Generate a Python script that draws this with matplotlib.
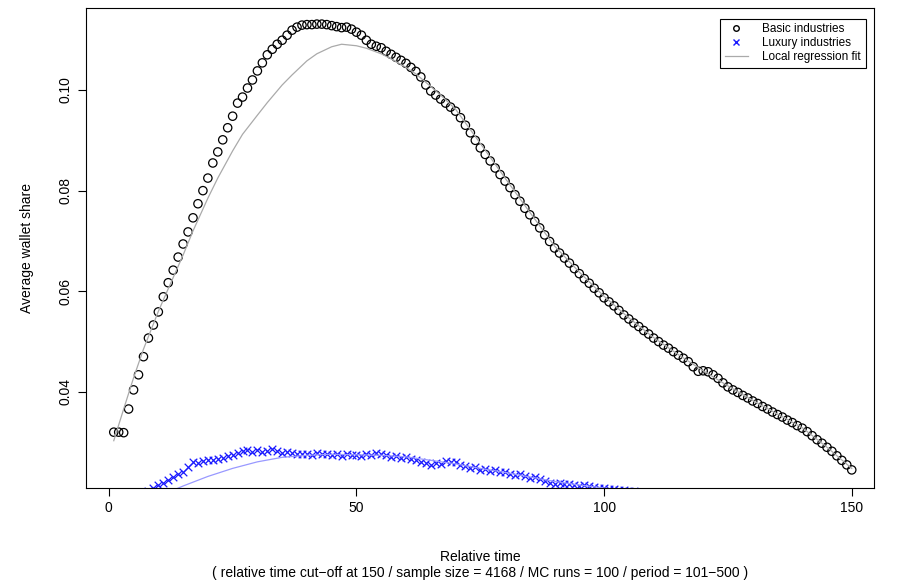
import numpy as np
import matplotlib
matplotlib.use("Agg")
import matplotlib.pyplot as plt
from matplotlib.lines import Line2D

plt.rcParams['font.family'] = ['Liberation Sans', 'DejaVu Sans']

# Basic industries, relative time 1..150
basic = [
    .0320, .0320, .0319, .0366, .0404, .0434, .0470, .0507, .0533, .0559,
    .0589, .0617, .0642, .0668, .0694, .0718, .0746, .0774, .0800, .0825,
    .0855, .0877, .0901, .0925, .0948, .0974, .0986, .1004, .1020, .1038,
    .1054, .1070, .1081, .1091, .1099, .1109, .1119, .1125, .1129, .1130,
    .1130, .1131, .1131, .1130, .1128, .1126, .1124, .1125, .1121, .1115,
    .1109, .1099, .1091, .1087, .1084, .1077, .1071, .1065, .1059, .1053,
    .1045, .1037, .1026, .1010, .0998, .0990, .0982, .0974, .0966, .0958,
    .0945, .0930, .0915, .0900, .0885, .0872, .0859, .0845, .0832, .0819,
    .0806, .0792, .0779, .0765, .0752, .0739, .0726, .0712, .0699, .0686,
    .0676, .0666, .0656, .0645, .0635, .0625, .0616, .0606, .0597, .0587,
    .0579, .0571, .0562, .0553, .0545, .0537, .0530, .0522, .0515, .0507,
    .0500, .0493, .0487, .0480, .0473, .0467, .0460, .0450, .0441, .0442,
    .0440, .0434, .0427, .0418, .0410, .0404, .0399, .0393, .0388, .0382,
    .0377, .0371, .0366, .0360, .0355, .0350, .0344, .0339, .0333, .0328,
    .0321, .0313, .0305, .0298, .0290, .0282, .0273, .0264, .0255, .0245,
]
basic_t = list(range(1, len(basic) + 1))

# Luxury industries, relative time 1..110 (rest lies below the axis)
luxury = [
    .0150, .0160, .0170, .0178, .0185, .0192, .0198, .0203, .0209, .0215,
    .0219, .0225, .0230, .0237, .0241, .0250, .0261, .0258, .0263, .0265,
    .0264, .0267, .0269, .0272, .0275, .0278, .0283, .0285, .0281, .0284,
    .0280, .0283, .0286, .0282, .0279, .0280, .0278, .0277, .0276, .0277,
    .0275, .0278, .0276, .0277, .0274, .0277, .0273, .0276, .0274, .0275,
    .0272, .0276, .0275, .0279, .0276, .0274, .0270, .0272, .0268, .0271,
    .0266, .0264, .0260, .0258, .0255, .0259, .0257, .0262, .0260, .0261,
    .0254, .0253, .0249, .0250, .0245, .0247, .0243, .0244, .0241, .0241,
    .0237, .0234, .0236, .0232, .0229, .0230, .0226, .0223, .0219, .0217,
    .0218, .0216, .0217, .0215, .0213, .0214, .0212, .0211, .0210, .0209,
    .0208, .0208, .0206, .0206, .0204, .0203, .0201, .0199, .0197, .0195,
]
luxury_t = list(range(1, len(luxury) + 1))

# Local regression fits
fit_t = [1, 3, 5, 7, 10, 12, 15, 17, 20, 22, 25, 27, 30, 32, 35, 37, 40, 42, 45,
         47, 50, 52, 55, 57, 60, 62, 65, 67, 70, 75, 80,
         85, 90, 95, 100, 105, 110, 115, 120, 125, 130, 135, 140, 145, 150]
basic_fit = [.0303, .0366, .0428, .0485, .0560, .0605, .0672, .0720, .0785, .0825,
             .0879, .0912, .0950, .0975, .1010, .1030, .1058, .1072, .1086,
             .1091, .1088, .1083, .1072, .1062, .1045, .1032, .1007, .0990, .0962,
             .0894, .0825, .0757, .0690,
             .0638, .0590, .0547, .0508, .0474, .0442, .0412, .0383, .0356, .0329,
             .0290, .0248]
lux_fit_t = [1, 5, 10, 15, 20, 25, 30, 35, 40, 45, 50, 55, 60, 65, 70, 75, 80,
             85, 90, 95, 100, 105, 110]
lux_fit = [.0150, .0170, .0192, .0213, .0232, .0248, .0261, .0270, .0274, .0276,
           .0275, .0274, .0271, .0264, .0257, .0248, .0240, .0231, .0222, .0215,
           .0209, .0203, .0196]

fig = plt.figure(figsize=(8.97, 5.85), dpi=100)
ax = fig.add_axes([0.0959, 0.1658, 0.8785, 0.8205])

ax.plot(fit_t, basic_fit, color='#aaaaaa', lw=0.9)
ax.plot(lux_fit_t, lux_fit, color='#9999ff', lw=0.9)
ax.scatter(basic_t, basic, s=36, facecolors='none', edgecolors='black', linewidths=0.9)
ax.scatter(luxury_t, luxury, s=30, marker='x', color='#1a1aff', linewidths=0.9)

ax.set_xlim(-4.6, 154.5)
ax.set_ylim(0.0209, 0.1163)
ax.set_xticks([0, 50, 100, 150])
ax.set_yticks([0.04, 0.06, 0.08, 0.10])
ax.set_yticklabels(['0.04', '0.06', '0.08', '0.10'], rotation=90, va='center')
ax.tick_params(labelsize=10, length=6)
for s in ax.spines.values():
    s.set_linewidth(0.8)

ax.set_xlabel('Relative time\n( relative time cut\u2212off at 150 / sample size = 4168 / MC runs = 100 / period = 101\u2212500 )',
              fontsize=10, labelpad=25, linespacing=1.2)
ax.set_ylabel('Average wallet share', fontsize=10, labelpad=18)

handles = [
    Line2D([], [], ls='none', marker='o', mfc='none', mec='black', ms=4),
    Line2D([], [], ls='none', marker='x', color='#1a1aff', ms=4),
    Line2D([], [], color='#aaaaaa', lw=0.9),
]
leg = ax.legend(handles, ['Basic industries', 'Luxury industries', 'Local regression fit'],
                loc='upper right', bbox_to_anchor=(0.997, 0.99), fontsize=8.5, fancybox=False,
                edgecolor='black', framealpha=1, handlelength=2, labelspacing=0.15,
                borderpad=0.4, handletextpad=1.2)
leg.get_frame().set_linewidth(0.8)

fig.savefig('out.png', dpi=100)
